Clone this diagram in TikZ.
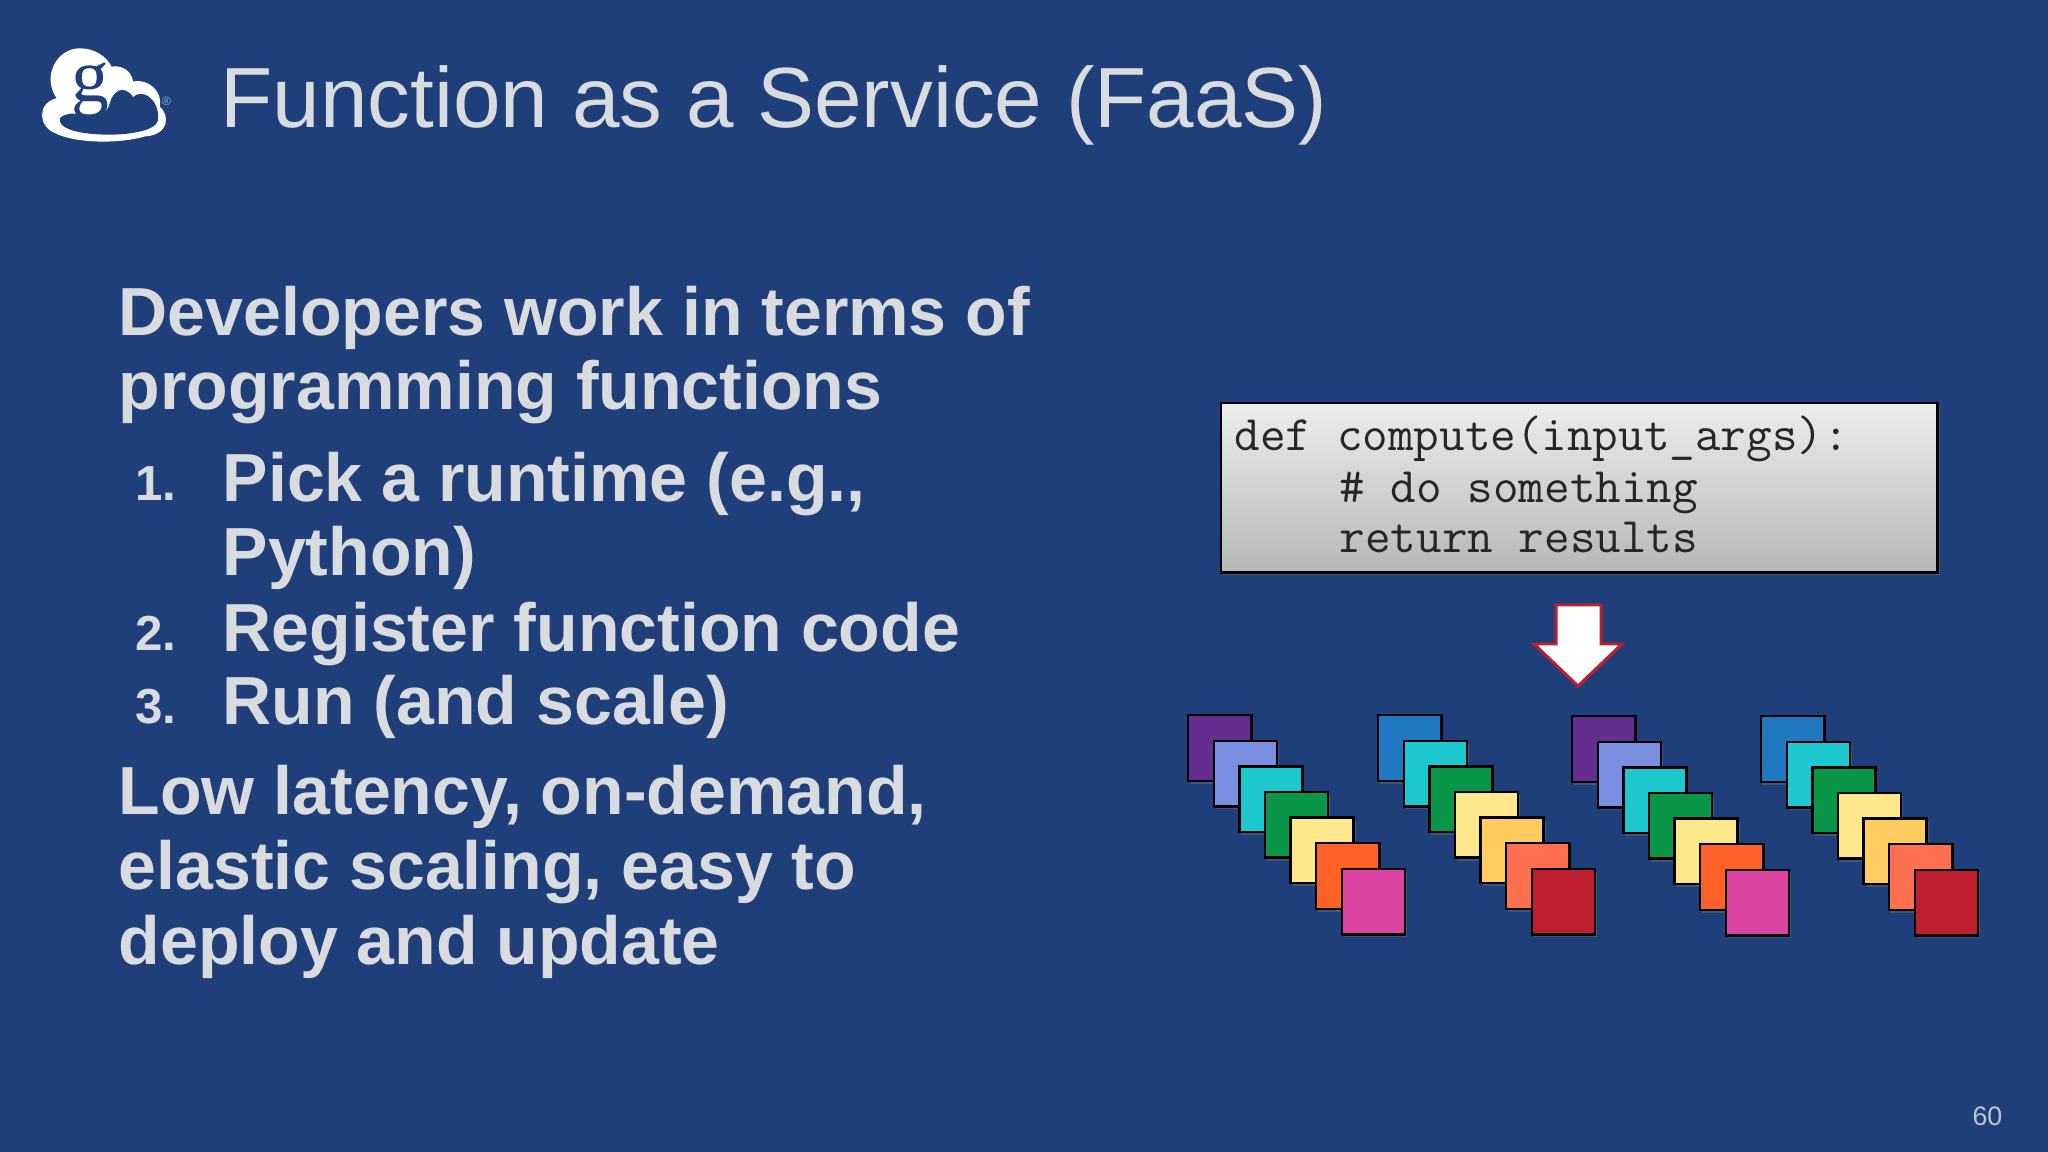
\documentclass[tikz,border=0pt]{standalone}
\usepackage{fontspec}
\setmainfont{Liberation Sans}
\usepackage{xcolor}
\usetikzlibrary{
	positioning,									% placement
	shadows,										% drop shadows
}
\definecolor{slidebg}{HTML}{1F3F7A}
\definecolor{slidetext}{HTML}{DADBDF}
\definecolor{sqpurple}{HTML}{662D91}
\definecolor{sqperi}{HTML}{7B8FE0}
\definecolor{sqteal}{HTML}{1DC8CF}
\definecolor{sqgreen}{HTML}{0A9648}
\definecolor{sqyellow}{HTML}{FFE88C}
\definecolor{sqorange}{HTML}{FF6127}
\definecolor{sqpink}{HTML}{DC44A4}
\definecolor{sqblue}{HTML}{1F78C0}
\definecolor{sqgold}{HTML}{FFCC60}
\definecolor{sqcoral}{HTML}{FF7050}
\definecolor{sqred}{HTML}{BE1E2D}
\definecolor{codetop}{HTML}{ECEEEC}
\definecolor{codebottom}{HTML}{B6B8B6}
\tikzset{
	titletext/.style={anchor=base west, inner sep=0pt, text=slidetext, font=\fontsize{24.3}{27}\selectfont},
	bodytext/.style={anchor=base west, inner sep=0pt, text=slidetext, align=left, font=\fontsize{19.35}{21.2}\selectfont\bfseries},
	numtext/.style={anchor=base east, inner sep=0pt, text=slidetext, font=\fontsize{14}{16}\selectfont\bfseries},
	codebox/.style={anchor=north west, draw=black, line width=0.7pt, minimum width=7.16cm, minimum height=1.69cm,
		top color=codetop, bottom color=codebottom, drop shadow={shadow xshift=0.02cm, shadow yshift=-0.03cm, opacity=.4}},
	codetext/.style={anchor=base west, inner sep=0pt, text=black!85, font=\fontsize{14.13}{14.5}\selectfont\ttfamily},
	funcsq/.style={anchor=north west, draw=black, line width=0.7pt, inner sep=0pt, minimum width=0.63cm, minimum height=0.655cm,
		drop shadow={shadow xshift=0.02cm, shadow yshift=-0.03cm, opacity=.35}},
}
\begin{document}
\begin{tikzpicture}[x=0.01cm, y=-0.01cm]
	\fill[slidebg] (0,0) rectangle (2048,1152);
	\useasboundingbox (0,0) rectangle (2048,1152);

	% logo, in crop coordinates
	\begin{scope}[shift={(20,20)}, x=0.00333cm, y=-0.00333cm]
		\fill[white] (110,235) .. controls (65,170) and (110,85) .. (180,85)
			.. controls (225,85) and (260,110) .. (275,140)
			.. controls (310,135) and (335,155) .. (340,185)
			.. controls (385,175) and (430,215) .. (420,260)
			.. controls (450,285) and (450,345) .. (375,350)
			.. controls (300,372) and (170,372) .. (105,340)
			.. controls (55,320) and (50,250) .. (110,235) -- cycle;
		\fill[slidebg] (120,295) .. controls (135,280) and (165,278) .. (190,285)
			.. controls (225,295) and (262,285) .. (270,250)
			.. controls (278,215) and (312,190) .. (340,232)
			.. controls (365,205) and (415,235) .. (415,290)
			.. controls (420,325) and (370,335) .. (320,342)
			.. controls (240,350) and (110,340) .. (120,295) -- cycle;
		\node[inner sep=0pt, text=slidebg, font=\fontsize{21.5}{22}\selectfont\fontspec{Liberation Serif}] (logog) at (213,212) {g};
		\node[inner sep=0pt, text=sqblue!40!slidetext, font=\fontsize{3.5}{4}\selectfont] (logoreg) at (440,243) {®};
	\end{scope}

	\node[titletext] (title) at (220,128) {Function as a Service (FaaS)};

	\node[bodytext] (devs) at (118,410) {Developers work in terms of\\programming functions};
	\node[numtext] (num1) at (177,501) {1.};
	\node[bodytext] (item1) at (222,576) {Pick a runtime (e.g.,\\Python)};
	\node[numtext] (num2) at (177,650) {2.};
	\node[bodytext] (item2) at (222,651) {Register function code};
	\node[numtext] (num3) at (177,723) {3.};
	\node[bodytext] (item3) at (222,724) {Run (and scale)};
	\node[bodytext] (low) at (118,964) {Low latency, on-demand,\\elastic scaling, easy to\\deploy and update};

	\node[codebox] (code) at (1220,402) {};
	\node[codetext] (line1) at (1234,451) {def compute(input\_args):};
	\node[codetext] (line2) at (1339,502) {\# do something};
	\node[codetext] (line3) at (1339,553) {return results};

	% arrow between code and squares
	\draw[draw=sqred, fill=white, line width=0.85pt, line join=miter]
		(1556,605) -- (1601,605) -- (1601,644) -- (1622,644) -- (1578,686) -- (1534,644) -- (1556,644) -- cycle;

	\foreach \gx/\gy/\cols in {
		1187/714/{sqpurple,sqperi,sqteal,sqgreen,sqyellow,sqorange,sqpink},
		1377/714/{sqblue,sqteal,sqgreen,sqyellow,sqgold,sqcoral,sqred},
		1571/715/{sqpurple,sqperi,sqteal,sqgreen,sqyellow,sqorange,sqpink},
		1760/715/{sqblue,sqteal,sqgreen,sqyellow,sqgold,sqcoral,sqred}%
	}{
		\foreach \c [count=\i from 0] in \cols {
			\node[funcsq, fill=\c] (sq\gx-\i) at ({\gx+\i*25.6},{\gy+\i*25.6}) {};
		}
	}

	\node[anchor=base east, inner sep=0pt, text=slidetext!85!slidebg, font=\fontsize{7.6}{9}\selectfont] (pagenum) at (2003,1125) {60};
\end{tikzpicture}
\end{document}
